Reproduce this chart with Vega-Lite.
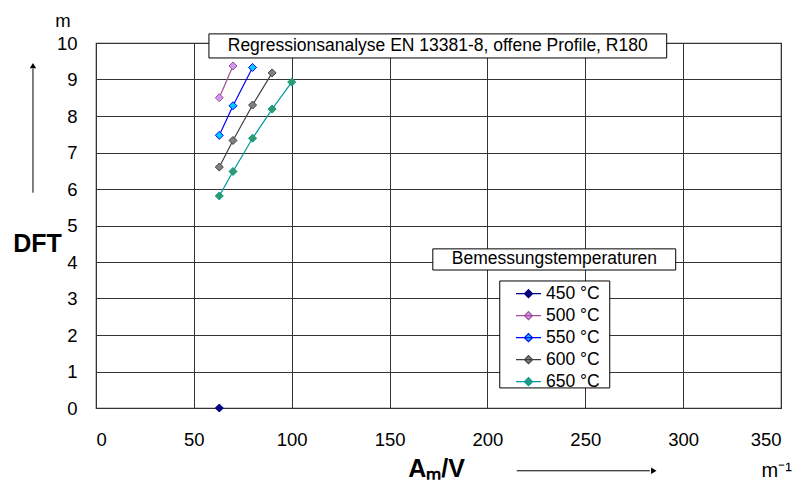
{
  "$schema": "https://vega.github.io/schema/vega-lite/v6.json",
  "width": 685,
  "height": 365,
  "autosize": {"type": "none"},
  "padding": {"left": 96, "top": 43, "right": 19, "bottom": 74},
  "background": "white",
  "config": {
    "font": "Liberation Sans",
    "view": {"stroke": "#333333", "strokeWidth": 1.2},
    "axis": {
      "domain": false,
      "ticks": false,
      "grid": true,
      "gridColor": "#333333",
      "gridWidth": 1,
      "labelFont": "Liberation Sans",
      "labelFontSize": 18.5,
      "labelColor": "#000000",
      "titleFont": "Liberation Sans",
      "titleColor": "#000000",
      "titleFontWeight": "bold",
      "titleFontSize": 25
    },
    "axisX": {"labelPadding": 22, "titleX": 340, "titleY": 60, "titleAlign": "center", "titleBaseline": "middle"},
    "axisY": {"labelPadding": 19, "titleAngle": 0, "titleX": -59, "titleY": 200, "titleAlign": "center", "titleBaseline": "middle"}
  },
  "data": {
    "values": [
      {"T": "450 °C", "x": 63, "y": 0},
      {"T": "500 °C", "x": 63, "y": 8.5},
      {"T": "500 °C", "x": 70, "y": 9.37},
      {"T": "550 °C", "x": 63, "y": 7.47},
      {"T": "550 °C", "x": 70, "y": 8.28},
      {"T": "550 °C", "x": 80, "y": 9.33},
      {"T": "600 °C", "x": 63, "y": 6.6},
      {"T": "600 °C", "x": 70, "y": 7.33},
      {"T": "600 °C", "x": 80, "y": 8.3},
      {"T": "600 °C", "x": 90, "y": 9.18},
      {"T": "650 °C", "x": 63, "y": 5.81},
      {"T": "650 °C", "x": 70, "y": 6.48},
      {"T": "650 °C", "x": 80, "y": 7.39},
      {"T": "650 °C", "x": 90, "y": 8.19},
      {"T": "650 °C", "x": 100, "y": 8.93}
    ]
  },
  "layer": [
    {
      "data": {"values": [{}]},
      "mark": {"type": "rect", "fill": "white", "stroke": "#000000", "strokeWidth": 1},
      "encoding": {
        "x": {"datum": 57.7, "type": "quantitative", "title": "Aₘ/V", "axis": {"values": [0, 50, 100, 150, 200, 250, 300, 350]}},
        "x2": {"datum": 291.6},
        "y": {"datum": 10.25, "type": "quantitative", "title": "DFT", "axis": {"values": [0, 1, 2, 3, 4, 5, 6, 7, 8, 9, 10]}},
        "y2": {"datum": 9.59}
      }
    },
    {
      "data": {"values": [{}]},
      "mark": {"type": "text", "text": "Regressionsanalyse EN 13381-8, offene Profile, R180", "fontSize": 17.5, "align": "center", "baseline": "middle", "color": "#000000"},
      "encoding": {
        "x": {"datum": 174.6, "type": "quantitative", "title": "Aₘ/V", "axis": {"values": [0, 50, 100, 150, 200, 250, 300, 350]}},
        "y": {"datum": 9.92, "type": "quantitative", "title": "DFT", "axis": {"values": [0, 1, 2, 3, 4, 5, 6, 7, 8, 9, 10]}}
      }
    },
    {
      "data": {"values": [{}]},
      "mark": {"type": "rect", "fill": "white", "stroke": "#000000", "strokeWidth": 1},
      "encoding": {
        "x": {"datum": 172.1, "type": "quantitative", "title": "Aₘ/V", "axis": {"values": [0, 50, 100, 150, 200, 250, 300, 350]}},
        "x2": {"datum": 296.2},
        "y": {"datum": 4.36, "type": "quantitative", "title": "DFT", "axis": {"values": [0, 1, 2, 3, 4, 5, 6, 7, 8, 9, 10]}},
        "y2": {"datum": 3.78}
      }
    },
    {
      "data": {"values": [{}]},
      "mark": {"type": "text", "text": "Bemessungstemperaturen", "fontSize": 17.5, "align": "center", "baseline": "middle", "color": "#000000"},
      "encoding": {
        "x": {"datum": 234.2, "type": "quantitative", "title": "Aₘ/V", "axis": {"values": [0, 50, 100, 150, 200, 250, 300, 350]}},
        "y": {"datum": 4.07, "type": "quantitative", "title": "DFT", "axis": {"values": [0, 1, 2, 3, 4, 5, 6, 7, 8, 9, 10]}}
      }
    },
    {
      "data": {"values": [{}]},
      "mark": {"type": "rect", "fill": "white", "stroke": "#000000", "strokeWidth": 1},
      "encoding": {
        "x": {"datum": 206.3, "type": "quantitative", "title": "Aₘ/V", "axis": {"values": [0, 50, 100, 150, 200, 250, 300, 350]}},
        "x2": {"datum": 262.5},
        "y": {"datum": 3.48, "type": "quantitative", "title": "DFT", "axis": {"values": [0, 1, 2, 3, 4, 5, 6, 7, 8, 9, 10]}},
        "y2": {"datum": 0.55}
      }
    },
    {
      "data": {"values": [{}]},
      "mark": {"type": "text", "text": "m", "fontSize": 18.5, "align": "center", "baseline": "middle", "color": "#000000"},
      "encoding": {
        "x": {"datum": -16.9, "type": "quantitative", "title": "Aₘ/V", "axis": {"values": [0, 50, 100, 150, 200, 250, 300, 350]}},
        "y": {"datum": 10.6, "type": "quantitative", "title": "DFT", "axis": {"values": [0, 1, 2, 3, 4, 5, 6, 7, 8, 9, 10]}}
      }
    },
    {
      "data": {"values": [{}]},
      "mark": {"type": "text", "text": "m⁻¹", "fontSize": 20, "align": "center", "baseline": "middle", "color": "#000000"},
      "encoding": {
        "x": {"datum": 347.8, "type": "quantitative", "title": "Aₘ/V", "axis": {"values": [0, 50, 100, 150, 200, 250, 300, 350]}},
        "y": {"datum": -1.73, "type": "quantitative", "title": "DFT", "axis": {"values": [0, 1, 2, 3, 4, 5, 6, 7, 8, 9, 10]}}
      }
    },
    {
      "data": {"values": [{}]},
      "mark": {"type": "rule", "stroke": "#000000", "strokeWidth": 1},
      "encoding": {
        "x": {"datum": -32.2, "type": "quantitative", "title": "Aₘ/V", "axis": {"values": [0, 50, 100, 150, 200, 250, 300, 350]}},
        "y": {"datum": 5.9, "type": "quantitative", "title": "DFT", "axis": {"values": [0, 1, 2, 3, 4, 5, 6, 7, 8, 9, 10]}},
        "y2": {"datum": 9.3}
      }
    },
    {
      "data": {"values": [{}]},
      "mark": {"type": "point", "shape": "triangle-up", "filled": true, "size": 40, "color": "#000000", "opacity": 1},
      "encoding": {
        "x": {"datum": -32.2, "type": "quantitative", "title": "Aₘ/V", "axis": {"values": [0, 50, 100, 150, 200, 250, 300, 350]}},
        "y": {"datum": 9.38, "type": "quantitative", "title": "DFT", "axis": {"values": [0, 1, 2, 3, 4, 5, 6, 7, 8, 9, 10]}}
      }
    },
    {
      "data": {"values": [{}]},
      "mark": {"type": "rule", "stroke": "#000000", "strokeWidth": 1},
      "encoding": {
        "x": {"datum": 215, "type": "quantitative", "title": "Aₘ/V", "axis": {"values": [0, 50, 100, 150, 200, 250, 300, 350]}},
        "x2": {"datum": 283},
        "y": {"datum": -1.72, "type": "quantitative", "title": "DFT", "axis": {"values": [0, 1, 2, 3, 4, 5, 6, 7, 8, 9, 10]}}
      }
    },
    {
      "data": {"values": [{}]},
      "mark": {"type": "point", "shape": "triangle-right", "filled": true, "size": 40, "color": "#000000", "opacity": 1},
      "encoding": {
        "x": {"datum": 285, "type": "quantitative", "title": "Aₘ/V", "axis": {"values": [0, 50, 100, 150, 200, 250, 300, 350]}},
        "y": {"datum": -1.72, "type": "quantitative", "title": "DFT", "axis": {"values": [0, 1, 2, 3, 4, 5, 6, 7, 8, 9, 10]}}
      }
    },
    {
      "mark": {"type": "line", "strokeWidth": 1.2},
      "encoding": {
        "x": {"field": "x", "type": "quantitative", "title": "Aₘ/V", "scale": {"domain": [0, 350], "nice": false, "zero": false},
          "axis": {"values": [0, 50, 100, 150, 200, 250, 300, 350]}},
        "y": {"field": "y", "type": "quantitative", "title": "DFT", "scale": {"domain": [0, 10], "nice": false, "zero": false},
          "axis": {"values": [0, 1, 2, 3, 4, 5, 6, 7, 8, 9, 10]}},
        "order": {"field": "x", "type": "quantitative"},
        "stroke": {"field": "T", "type": "nominal",
          "scale": {"domain": ["450 °C", "500 °C", "550 °C", "600 °C", "650 °C"], "range": ["#000080", "#A0509A", "#0000FF", "#404040", "#009999"]},
          "legend": {"orient": "none", "legendX": 419, "legendY": 240, "title": null, "padding": 0, "rowPadding": 0, "clipHeight": 21.3, "symbolType": "M-1,0L1,0M0,-0.32L0.32,0L0,0.32L-0.32,0Z", "symbolSize": 625, "symbolStrokeWidth": 1.2, "labelFontSize": 17.5, "labelOffset": 4, "labelBaseline": "middle", "labelColor": "#000000"}}
      }
    },
    {
      "mark": {"type": "point", "shape": "diamond", "filled": true, "size": 64, "strokeWidth": 1, "opacity": 1},
      "encoding": {
        "x": {"field": "x", "type": "quantitative", "title": "Aₘ/V", "axis": {"values": [0, 50, 100, 150, 200, 250, 300, 350]}},
        "y": {"field": "y", "type": "quantitative", "title": "DFT", "axis": {"values": [0, 1, 2, 3, 4, 5, 6, 7, 8, 9, 10]}},
        "stroke": {"field": "T", "type": "nominal"},
        "fill": {"field": "T", "type": "nominal",
          "scale": {"domain": ["450 °C", "500 °C", "550 °C", "600 °C", "650 °C"], "range": ["#000080", "#CC99EE", "#00CCFF", "#808080", "#339966"]},
          "legend": {"orient": "none", "legendX": 419, "legendY": 240, "title": null, "padding": 0, "rowPadding": 0, "clipHeight": 21.3, "symbolType": "M-1,0L1,0M0,-0.32L0.32,0L0,0.32L-0.32,0Z", "symbolSize": 625, "symbolStrokeWidth": 1.2, "labelFontSize": 17.5, "labelOffset": 4, "labelBaseline": "middle", "labelColor": "#000000"}}
      }
    }
  ]
}
